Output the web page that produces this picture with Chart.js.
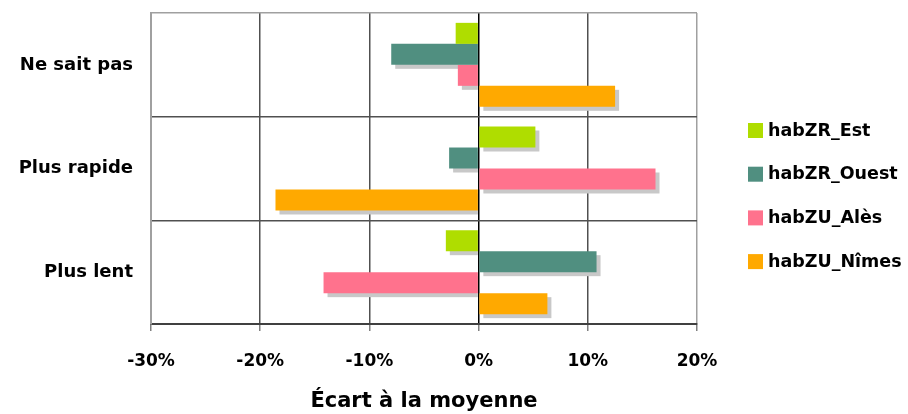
<!DOCTYPE html>
<html>
<head>
<meta charset="utf-8">
<script src="https://cdn.jsdelivr.net/npm/chart.js@4.4.1/dist/chart.umd.min.js"></script>
<style>
  html, body { margin: 0; padding: 0; background: #fff; }
  #wrap { width: 908px; height: 414px; }
</style>
</head>
<body>
<div id="wrap"><canvas id="ecart" width="908" height="414"></canvas></div>
<script>
// categories (top to bottom) and the gap to the mean, in %
const categories = ['Ne sait pas', 'Plus rapide', 'Plus lent'];
const seriesNames = ['habZR_Est', 'habZR_Ouest', 'habZU_Alès', 'habZU_Nîmes'];
const habZR_Est = [-2.1, 5.2, -3.0];
const habZR_Ouest = [-8.0, -2.7, 10.8];
const habZU_Ales = [-1.9, 16.2, -14.2];
const habZU_Nimes = [12.5, -18.6, 6.3];
const tickValues = [-30, -20, -10, 0, 10, 20];
const colors = ['#afdd00', '#508f80', '#ff728d', '#ffa900'];

const FONT = "'DejaVu Sans', Verdana, sans-serif";
Chart.defaults.font.family = FONT;
Chart.defaults.color = '#000';

// grey drop shadow behind each bar (drawn before all bars)
const barShadow = {
  id: 'barShadow',
  beforeDatasetsDraw(chart) {
    const ctx = chart.ctx;
    ctx.save();
    ctx.fillStyle = '#c8c8c8';
    chart.data.datasets.forEach((ds, i) => {
      chart.getDatasetMeta(i).data.forEach(bar => {
        const half = bar.height / 2;
        let x0 = Math.min(bar.x, bar.base) + 4;
        let x1 = Math.max(bar.x, bar.base) + 4;
        if (bar.x < bar.base) x1 = bar.base;
        ctx.fillRect(x0, bar.y - half + 4, x1 - x0, bar.height);
      });
    });
    ctx.restore();
  }
};

// legend on the right, one square per series
const sideLegend = {
  id: 'sideLegend',
  afterDraw(chart) {
    const ctx = chart.ctx;
    ctx.save();
    ctx.font = 'bold 17.5px ' + FONT;
    ctx.textBaseline = 'middle';
    chart.data.datasets.forEach((ds, i) => {
      const y = 130 + i * 43.7;
      ctx.fillStyle = ds.backgroundColor;
      ctx.fillRect(748, y - 7, 15, 15);
      ctx.fillStyle = '#000';
      ctx.fillText(ds.label, 768, y + 1);
    });
    ctx.restore();
  }
};

const series = [habZR_Est, habZR_Ouest, habZU_Ales, habZU_Nimes];

new Chart(document.getElementById('ecart'), {
  type: 'bar',
  data: {
    labels: categories,
    datasets: series.map((vals, i) => ({
      label: seriesNames[i],
      data: vals,
      backgroundColor: colors[i],
      borderWidth: 0,
      categoryPercentage: 0.81,
      barPercentage: 1.0
    }))
  },
  options: {
    indexAxis: 'y',
    responsive: false,
    animation: false,
    layout: { padding: { top: 13, right: 211, left: 0, bottom: 0 } },
    plugins: {
      legend: { display: false },
      tooltip: { enabled: false }
    },
    scales: {
      x: {
        min: tickValues[0],
        max: tickValues[tickValues.length - 1],
        afterBuildTicks(scale) {
          scale.ticks = tickValues.map(v => ({ value: v }));
        },
        afterFit(scale) { scale.height = 90; },
        grid: {
          color: c => {
            const v = c.tick ? c.tick.value : null;
            if (v === 0) return '#000';
            if (v === tickValues[0] || v === tickValues[tickValues.length - 1]) return '#a0a0a0';
            return '#505050';
          },
          lineWidth: 1.5,
          tickLength: 7,
          tickColor: '#808080'
        },
        border: { color: '#404040', width: 2 },
        ticks: {
          padding: 20,
          font: { size: 17, weight: 'bold' },
          callback: v => v + '%'
        },
        title: {
          display: true,
          text: 'Écart à la moyenne',
          font: { size: 21, weight: 'bold' },
          padding: { top: 0, bottom: 0 }
        }
      },
      y: {
        afterFit(scale) {
          scale.width = 151;
          scale.paddingTop = 0;
          scale.paddingBottom = 0;
        },
        grid: {
          offset: true,
          drawTicks: false,
          color: c => c.index === 0 ? '#a0a0a0' : '#505050',
          lineWidth: 1.5
        },
        border: { color: '#a0a0a0', width: 2 },
        ticks: {
          padding: 18,
          font: { size: 18, weight: 'bold' }
        }
      }
    }
  },
  plugins: [barShadow, sideLegend]
});
</script>
</body>
</html>
